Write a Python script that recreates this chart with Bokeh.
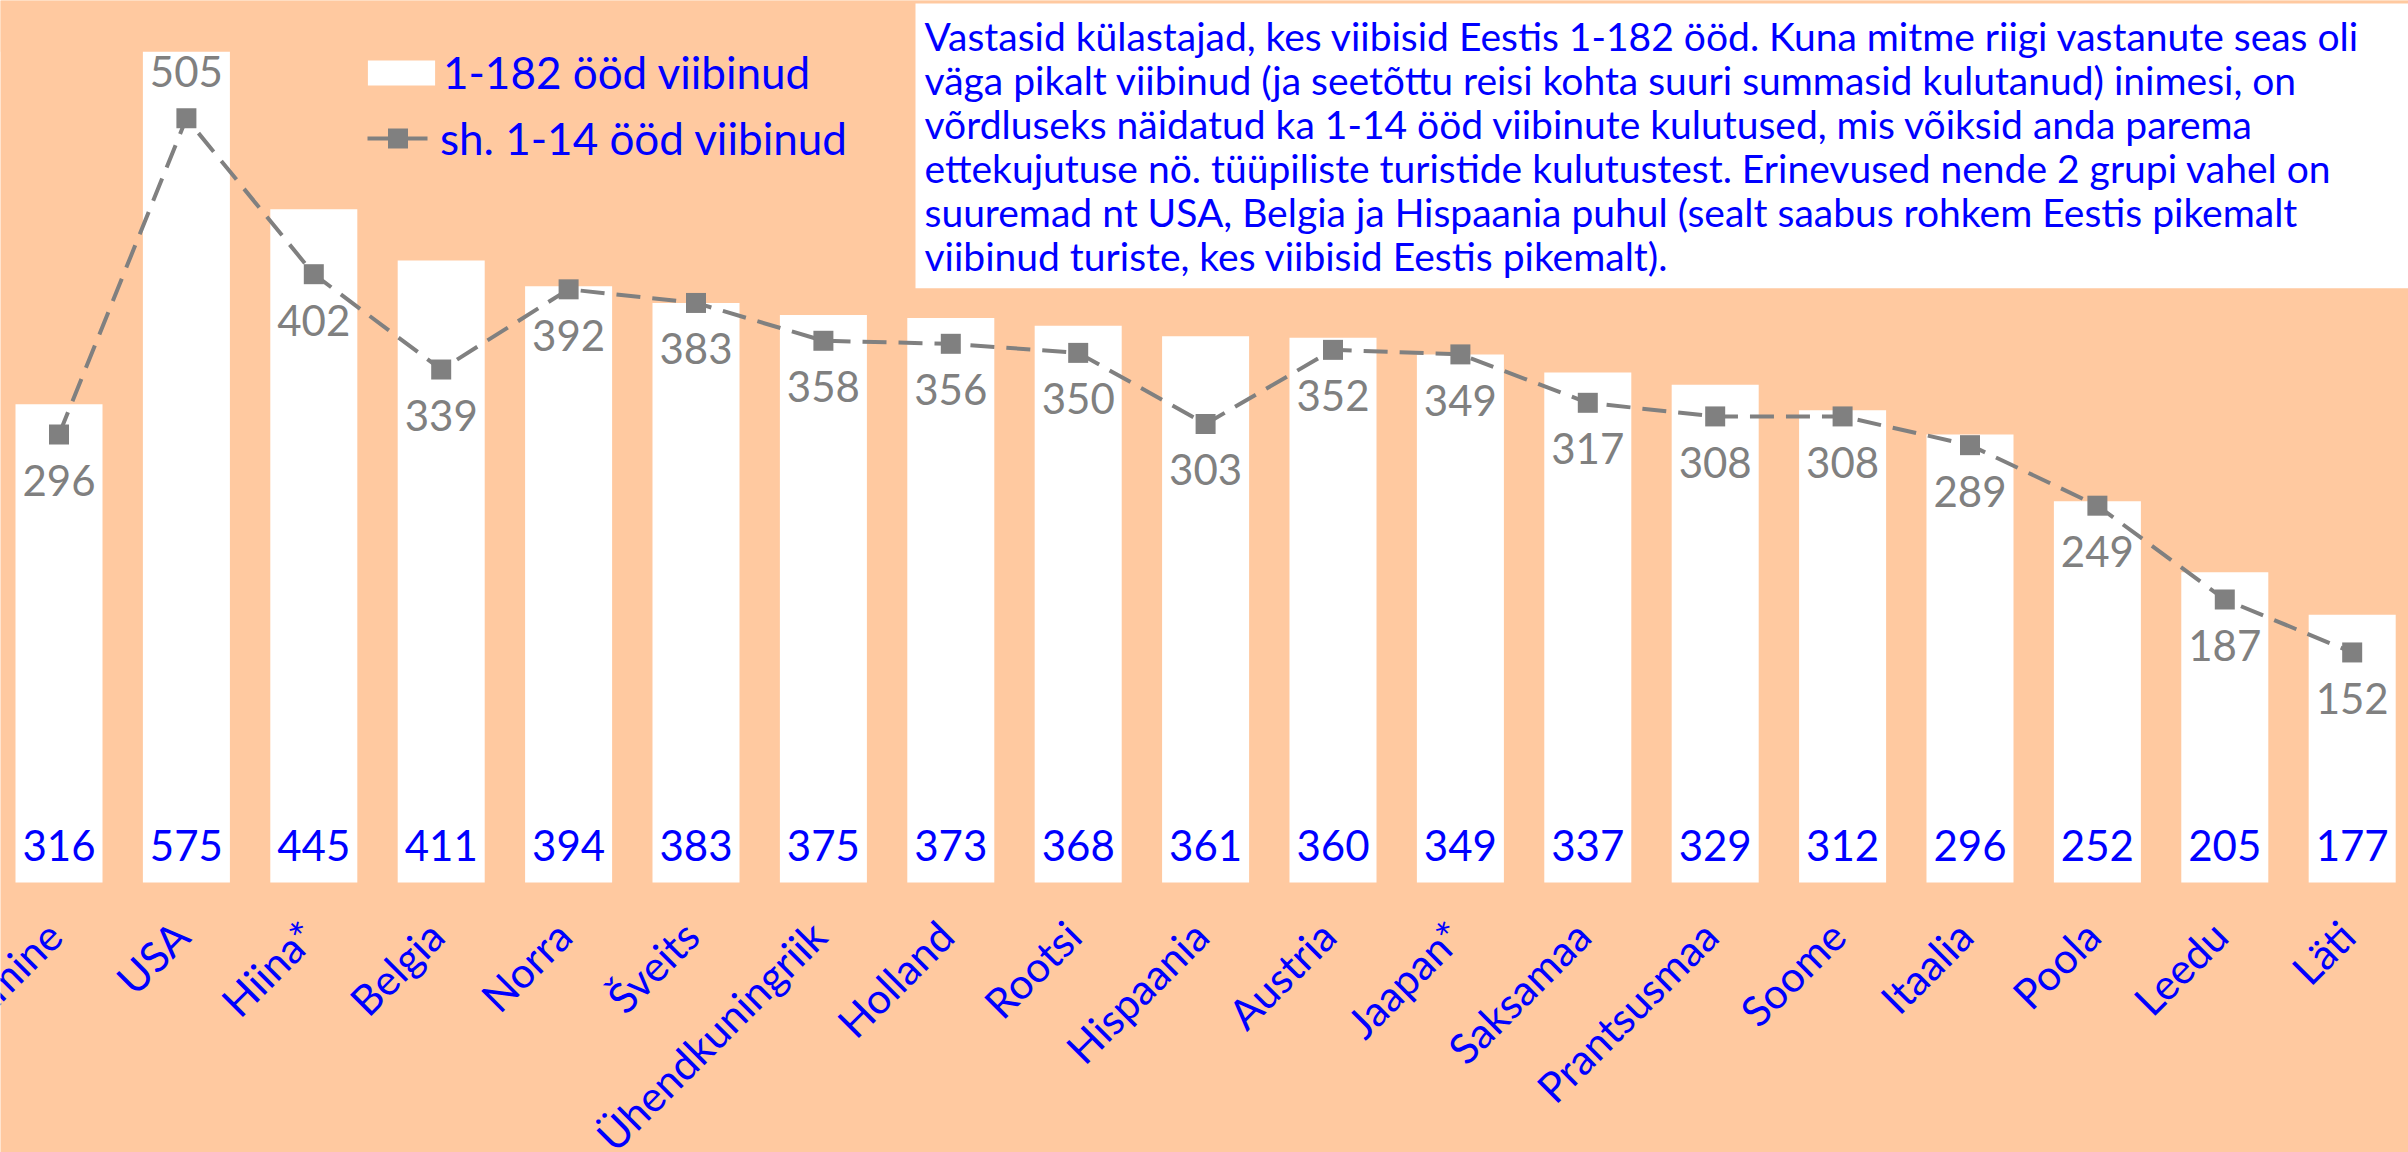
import math
from bokeh.plotting import figure
from bokeh.models import (Range1d, ColumnDataSource, Legend, LegendItem, Label,
                          BoxAnnotation)
from bokeh.core.properties import value
from bokeh.embed import file_html
from bokeh.resources import INLINE

# ---- data ----
categories = ["Keskmine", "USA", "Hiina*", "Belgia", "Norra", "Šveits",
              "Ühendkuningriik", "Holland", "Rootsi", "Hispaania", "Austria",
              "Jaapan*", "Saksamaa", "Prantsusmaa", "Soome", "Itaalia",
              "Poola", "Leedu", "Läti"]
stay_1_182 = [316, 575, 445, 411, 394, 383, 375, 373, 368, 361, 360, 349,
              337, 329, 312, 296, 252, 205, 177]
stay_1_14 = [296, 505, 402, 339, 392, 383, 358, 356, 350, 303, 352, 349,
             317, 308, 308, 289, 249, 187, 152]

legend_bar = "1-182 ööd viibinud"
legend_line = "sh. 1-14 ööd viibinud"
note = ("Vastasid külastajad, kes viibisid Eestis 1-182 ööd. Kuna mitme riigi vastanute seas oli\n"
        "väga pikalt viibinud (ja seetõttu reisi kohta suuri summasid kulutanud) inimesi, on\n"
        "võrdluseks näidatud ka 1-14 ööd viibinute kulutused, mis võiksid anda parema\n"
        "ettekujutuse nö. tüüpiliste turistide kulutustest. Erinevused nende 2 grupi vahel on\n"
        "suuremad nt USA, Belgia ja Hispaania puhul (sealt saabus rohkem Eestis pikemalt\n"
        "viibinud turiste, kes viibisid Eestis pikemalt).")

# ---- styles ----
BG = "#FFC9A0"
BLUE = "#0000FF"
GRAY = "#808080"
FONT = "Lato"

xs = list(range(len(categories)))
peak = max(stay_1_14)
src = ColumnDataSource(dict(
    x=xs,
    cat=categories,
    long=stay_1_182,
    short=stay_1_14,
    long_txt=[str(v) for v in stay_1_182],
    short_txt=[str(v) for v in stay_1_14],
    short_off=[-47 if v == peak else 46 for v in stay_1_14],
))

W, H = 2408, 1152
Y_TOP_VISIBLE = 549          # value axis is cut off here (USA bar is clipped)
p = figure(width=W, height=H, output_backend="svg", toolbar_location=None,
           x_range=Range1d(-0.4592, 18.442), y_range=Range1d(-178.5, 582.9),
           x_axis_location=None, y_axis_location=None,
           min_border_left=0, min_border_right=0, min_border_top=0,
           min_border_bottom=0)
p.background_fill_color = BG
p.border_fill_color = BG
p.outline_line_color = None
p.grid.visible = False

bars = p.vbar(x="x", top="long", bottom=0, width=0.683, source=src,
              fill_color="white", line_color=None)
line = p.line(x="x", y="short", source=src, line_color=GRAY, line_width=4,
              line_dash="24 12")
marks = p.scatter(x="x", y="short", source=src, marker="square", size=20,
                  fill_color=GRAY, line_color=None)

p.text(x="x", y=0, text="long_txt", source=src, y_offset=-37,
       text_align="center", text_baseline="middle", text_color=BLUE,
       text_font=value(FONT), text_font_size="42px")
p.text(x="x", y="short", text="short_txt", source=src, y_offset="short_off",
       text_align="center", text_baseline="middle", text_color=GRAY,
       text_font=value(FONT), text_font_size="42px")

# category labels (rotated 45 degrees below the bars)
p.text(x="x", y=0, text="cat", source=src, angle=math.pi / 4,
       x_offset=-5, y_offset=46, text_align="right", text_baseline="middle",
       text_color=BLUE, text_font=value(FONT), text_font_size="42px")

# mask above the visible top of the value axis
p.add_layout(BoxAnnotation(bottom=Y_TOP_VISIBLE, fill_color=BG, fill_alpha=1,
                           line_color=None))

common = dict(label_text_font=FONT, label_text_font_size="44px",
              label_text_color=BLUE, padding=0, margin=0, spacing=0,
              background_fill_alpha=0, border_line_alpha=0)
p.add_layout(Legend(items=[LegendItem(label=legend_bar, renderers=[bars])],
                    location=(359, 1054), glyph_width=84, glyph_height=31,
                    label_standoff=0, **common))
p.add_layout(Legend(items=[LegendItem(label=legend_line,
                                      renderers=[line, marks])],
                    location=(367, 988), glyph_width=61, glyph_height=50,
                    label_standoff=12, **common))

p.add_layout(Label(x=915, y=1149, x_units="screen", y_units="screen",
                   text=note, text_align="left", text_baseline="top",
                   text_font=FONT, text_font_size="39px", text_color=BLUE,
                   text_line_height=0.96, background_fill_color="white",
                   padding=dict(left=9, right=60, top=9, bottom=9)))

open("out.html", "w").write(file_html(p, INLINE))
